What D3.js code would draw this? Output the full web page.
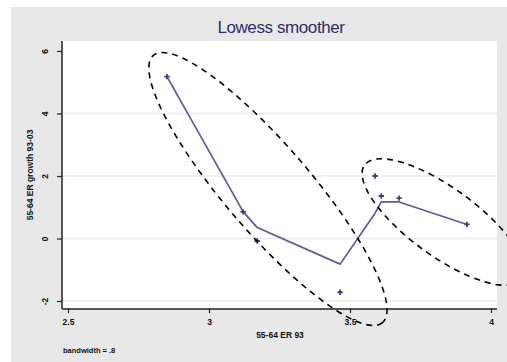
<!DOCTYPE html>
<html>
<head>
<meta charset="utf-8">
<script src="https://cdn.jsdelivr.net/npm/d3@7"></script>
<style>
  html, body { margin: 0; padding: 0; background: #ffffff; }
  svg { display: block; font-family: "Liberation Sans", Arial, sans-serif; }
</style>
</head>
<body>
<svg id="chart" width="507" height="362"></svg>
<script>
// Employment rate, ages 55-64: level in 1993 vs growth 1993-2003
const erLevel93   = [2.851, 3.121, 3.171, 3.465, 3.589, 3.611, 3.674, 3.915];
const erGrowth    = [5.18, 0.85, -0.08, -1.72, 2.00, 1.36, 1.29, 0.45];
// lowess fitted values at the same x, bandwidth 0.8
const lowessFit   = [5.18, 0.86, 0.35, -0.82, 0.81, 1.17, 1.17, 0.45];

const xTicks = [2.5, 3, 3.5, 4];
const xTickLabels = ["2.5", "3", "3.5", "4"];
const yTicks = [-2, 0, 2, 4, 6];
const yTickLabels = ["-2", "0", "2", "4", "6"];
const yGridTicks = [-2, 0, 2, 4];

const titleText = "Lowess smoother";
const xTitle = "55-64 ER 93";
const yTitle = "55-64 ER growth 93-03";
const noteText = "bandwidth = .8";

// Two groups of countries, circled with dashed ellipses (centre in data units)
const groupCentresX = [3.209, 3.830];
const groupCentresY = [1.584, 0.528];

const svg = d3.select("#chart");

// outer panel
svg.append("rect").attr("x", 11).attr("y", 7).attr("width", 496).attr("height", 355)
  .attr("fill", "#e8e8e8");

const plot = { left: 62, right: 497, top: 41, bottom: 309 };
svg.append("rect").attr("x", plot.left).attr("y", plot.top)
  .attr("width", plot.right - plot.left).attr("height", plot.bottom - plot.top)
  .attr("fill", "#ffffff");

const x = d3.scaleLinear().domain([2.5, 4]).range([68, 491]);
const y = d3.scaleLinear().domain([-2, 6]).range([301, 51]);

// gridlines
svg.append("g").selectAll("line").data(yGridTicks).join("line")
  .attr("x1", plot.left).attr("x2", plot.right)
  .attr("y1", d => y(d)).attr("y2", d => y(d))
  .attr("stroke", "#eaeaea").attr("stroke-width", 1.5);

// y axis
const yAxis = d3.axisLeft(y).tickValues(yTicks)
  .tickFormat((d, i) => yTickLabels[i]).tickSize(5).tickSizeOuter(0);
const gy = svg.append("g").attr("transform", `translate(${plot.left},0)`).call(yAxis);
gy.select(".domain").remove();
gy.append("line").attr("x1", 0).attr("x2", 0).attr("y1", plot.top).attr("y2", plot.bottom)
  .attr("stroke", "#222").attr("stroke-width", 1.5);
gy.selectAll(".tick line").attr("stroke", "#222").attr("stroke-width", 1.2);
gy.selectAll(".tick text")
  .attr("x", 0).attr("y", 0).attr("dy", null)
  .attr("transform", "translate(-14,0) rotate(-90)")
  .attr("text-anchor", "middle")
  .attr("font-size", 8.5).attr("font-weight", "bold").attr("fill", "#111");

// x axis
const xAxis = d3.axisBottom(x).tickValues(xTicks)
  .tickFormat((d, i) => xTickLabels[i]).tickSize(4).tickSizeOuter(0);
const gx = svg.append("g").attr("transform", `translate(0,${plot.bottom})`).call(xAxis);
gx.select(".domain").remove();
gx.append("line").attr("x1", plot.left).attr("x2", plot.right).attr("y1", 0).attr("y2", 0)
  .attr("stroke", "#222").attr("stroke-width", 1.5);
gx.selectAll(".tick line").attr("stroke", "#222").attr("stroke-width", 1.2);
gx.selectAll(".tick text").attr("y", 10).attr("dy", "0.71em")
  .attr("font-size", 8.5).attr("font-weight", "bold").attr("fill", "#111");

// titles
svg.append("text").attr("x", 281).attr("y", 33).attr("text-anchor", "middle")
  .attr("font-size", 17).attr("fill", "#2e2e6e").attr("letter-spacing", -0.4).text(titleText);
svg.append("text").attr("x", 280).attr("y", 338).attr("text-anchor", "middle")
  .attr("font-size", 8.5).attr("font-weight", "bold").attr("fill", "#111").text(xTitle);
svg.append("text").attr("transform", "translate(33,175) rotate(-90)").attr("text-anchor", "middle")
  .attr("font-size", 8.5).attr("font-weight", "bold").attr("fill", "#111").text(yTitle);
svg.append("text").attr("x", 63).attr("y", 353)
  .attr("font-size", 7.5).attr("font-weight", "bold").attr("fill", "#111").text(noteText);

// lowess line
const pts = erLevel93.map((v, i) => ({ x: v, y: erGrowth[i], fit: lowessFit[i] }));
const line = d3.line().x(d => x(d.x)).y(d => y(d.fit));
svg.append("path").datum(pts).attr("d", line)
  .attr("fill", "none").attr("stroke", "#5a5a9e").attr("stroke-width", 1.7)
  .attr("stroke-linejoin", "round");

// scatter markers (small plus signs)
const sym = d3.symbol().type(d3.symbolCross).size(16);
svg.append("g").selectAll("path").data(pts).join("path")
  .attr("transform", d => `translate(${x(d.x)},${y(d.y)})`)
  .attr("d", sym).attr("fill", "#3d3d85");

// dashed group ellipses
const ellipseShape = [
  { rx: 176, ry: 43, angle: 49.4 },
  { rx: 97, ry: 34, angle: 36 }
];
svg.append("g").selectAll("ellipse").data(ellipseShape).join("ellipse")
  .attr("transform", (d, i) => `translate(${x(groupCentresX[i])},${y(groupCentresY[i])}) rotate(${d.angle})`)
  .attr("rx", d => d.rx).attr("ry", d => d.ry)
  .attr("fill", "none").attr("stroke", "#000").attr("stroke-width", 1.6)
  .attr("stroke-dasharray", "6,5");
</script>
</body>
</html>
